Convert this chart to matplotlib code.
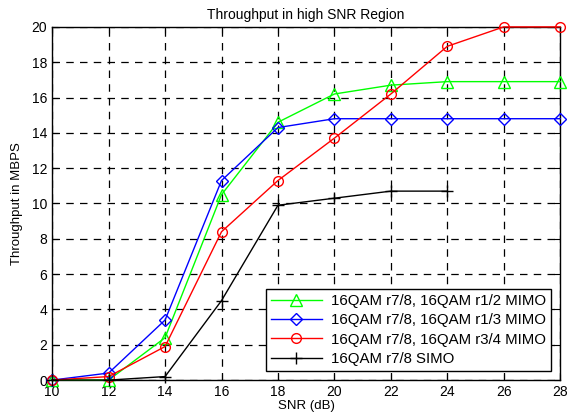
import matplotlib
matplotlib.use("Agg")
import matplotlib.pyplot as plt

plt.rcParams['font.family'] = ['Liberation Sans', 'DejaVu Sans']

snr = [10, 12, 14, 16, 18, 20, 22, 24, 26, 28]
mimo_r12 = [0, 0, 2.4, 10.5, 14.6, 16.2, 16.7, 16.9, 16.9, 16.9]
mimo_r13 = [0, 0.4, 3.4, 11.3, 14.3, 14.8, 14.8, 14.8, 14.8, 14.8]
mimo_r34 = [0, 0.2, 1.9, 8.4, 11.3, 13.7, 16.2, 18.9, 20.0, 20.0]
snr_simo = [10, 12, 14, 16, 18, 20, 22, 24]
simo = [0, 0, 0.2, 4.5, 9.9, 10.3, 10.7, 10.7]

labels = ["16QAM r7/8, 16QAM r1/2 MIMO", "16QAM r7/8, 16QAM r1/3 MIMO",
          "16QAM r7/8, 16QAM r3/4 MIMO", "16QAM r7/8 SIMO"]

fig = plt.figure(figsize=(5.67, 4.2), dpi=100)
ax = fig.add_axes([0.092, 0.095, 0.896, 0.841])

ax.plot(snr, mimo_r12, color='#00ff00', marker='^', mfc='none', ms=8, lw=1, label=labels[0], clip_on=False, zorder=3)
ax.plot(snr, mimo_r13, color='#0000ff', marker='D', mfc='none', ms=6, lw=1, label=labels[1], clip_on=False, zorder=3)
ax.plot(snr, mimo_r34, color='#ff0000', marker='o', mfc='none', ms=7, lw=1, label=labels[2], clip_on=False, zorder=3)
ax.plot(snr_simo, simo, color='black', marker='+', ms=8, lw=1, label=labels[3], clip_on=False, zorder=3)

ax.set_xlim(10, 28)
ax.set_ylim(0, 20)
ax.set_xticks(range(10, 29, 2))
ax.set_yticks(range(0, 21, 2))
ax.grid(True, color='black', linestyle=(0, (6, 5)), linewidth=0.9)
ax.tick_params(direction='in', top=True, right=True, labelsize=10, length=4)
for s in ax.spines.values():
    s.set_linewidth(1)

ax.set_title("Throughput in high SNR Region", fontsize=10, pad=6)
ax.set_xlabel("SNR (dB)", fontsize=9.5, labelpad=1)
ax.set_ylabel("Throughput in MBPS", fontsize=9.5, labelpad=6)

leg = ax.legend(loc='lower right', fontsize=10.8, fancybox=False, framealpha=1,
                edgecolor='black', handlelength=3.4, borderaxespad=0.6,
                borderpad=0.35, labelspacing=0.35, handletextpad=0.6)
leg.get_frame().set_linewidth(1)
leg.set_zorder(5)

fig.savefig("out.png", dpi=100)
